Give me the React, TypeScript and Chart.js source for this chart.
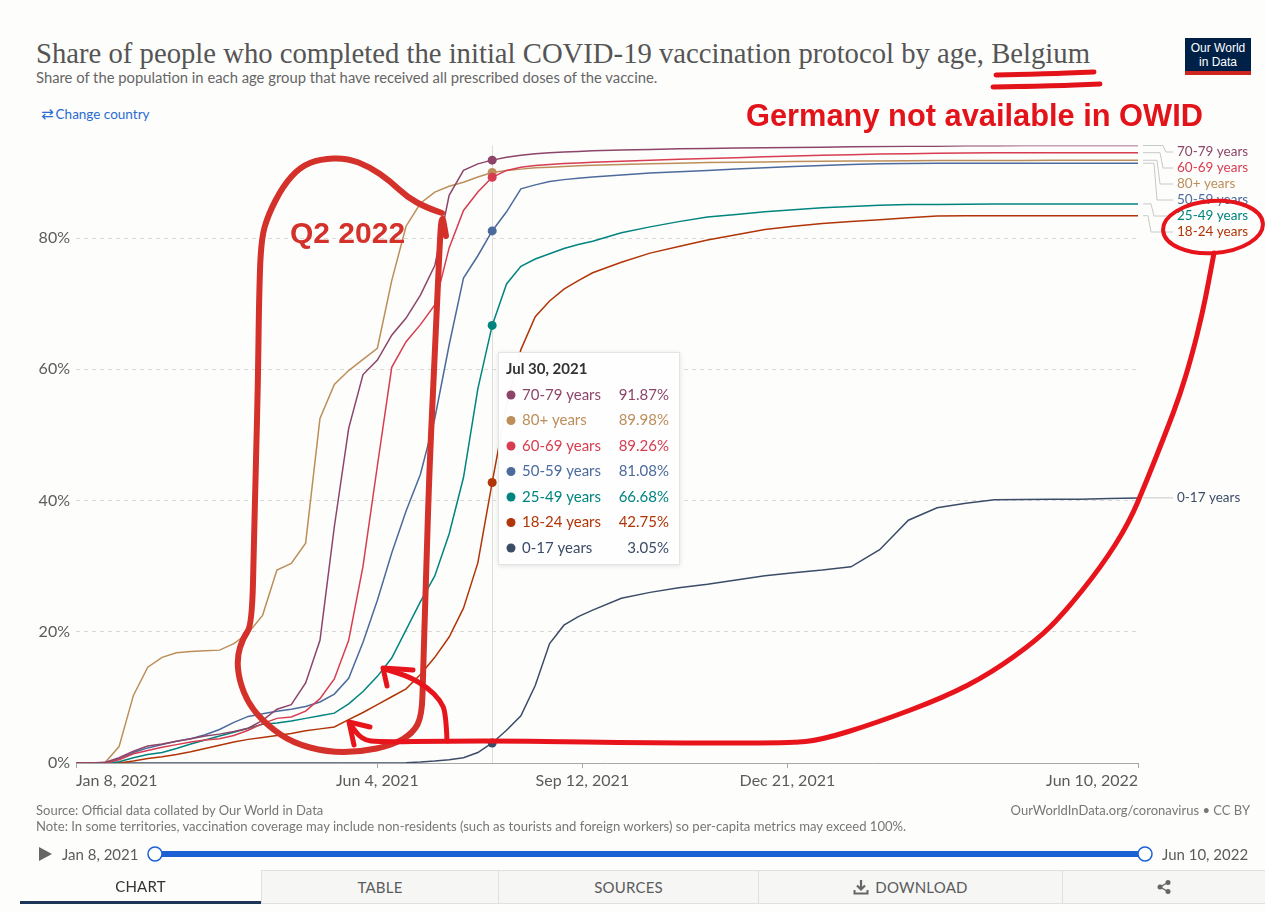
import React, { useEffect, useRef } from "react";
import { Chart, registerables } from "chart.js";

Chart.register(...registerables);

// ---------------- data ----------------
const startDate = "2021-01-08";
// days since startDate (weekly, then fortnightly)
const sampleDays = [0, 7, 14, 21, 28, 35, 42, 49, 56, 63, 70, 77, 84, 91, 98, 105, 112, 119, 126, 133, 140, 147, 154, 161, 168, 175, 182, 189, 196, 203, 210, 217, 224, 231, 238, 245, 252, 266, 280, 294, 308, 322, 336, 350, 364, 378, 392, 406, 420, 434, 448, 462, 476, 490, 504, 518];

const seriesNames = ["70-79 years", "60-69 years", "80+ years", "50-59 years", "25-49 years", "18-24 years", "0-17 years"];
const seriesColors = ["#8c4569", "#d73c50", "#bc8e5a", "#4c6a9c", "#00847e", "#b13507", "#3b4c66"];

const share70to79 = [0, 0, 0.1, 0.8, 1.8, 2.6, 2.9, 3.3, 3.7, 4.1, 4.4, 4.8, 5.3, 6.5, 8.2, 8.9, 12.2, 18.7, 36, 51, 59.2, 61.4, 65.2, 67.8, 71.3, 75.8, 86.5, 90.3, 91.3, 91.87, 92.3, 92.6, 92.85, 93.0, 93.1, 93.2, 93.3, 93.4, 93.5, 93.6, 93.65, 93.7, 93.75, 93.8, 93.85, 93.9, 93.95, 94.0, 94.0, 94.05, 94.05, 94.1, 94.1, 94.1, 94.1, 94.1];
const share60to69 = [0, 0, 0, 0.5, 1.4, 1.9, 2.4, 2.8, 3.2, 3.5, 3.7, 4.2, 5.0, 6.0, 6.8, 7.0, 7.9, 9.8, 12.8, 18.7, 30, 45.3, 60.3, 64.2, 66.8, 69.8, 78.5, 84.2, 87.0, 89.26, 90.3, 90.8, 91.05, 91.2, 91.35, 91.45, 91.55, 91.7, 91.85, 92.0, 92.1, 92.25, 92.4, 92.5, 92.6, 92.7, 92.8, 92.85, 92.9, 92.95, 93.0, 93.0, 93.0, 93.0, 93.0, 93.0];
const share80plus = [0, 0, 0, 2.5, 10.3, 14.6, 16.1, 16.8, 17.0, 17.1, 17.2, 18.2, 19.8, 22.5, 29.4, 30.4, 33.5, 52.5, 57.7, 59.8, 61.5, 63.2, 73.5, 81.8, 85.3, 87.0, 87.9, 88.5, 89.3, 89.98, 90.3, 90.5, 90.7, 90.8, 90.9, 91.0, 91.1, 91.2, 91.3, 91.4, 91.5, 91.55, 91.6, 91.65, 91.7, 91.72, 91.75, 91.77, 91.8, 91.8, 91.82, 91.83, 91.84, 91.85, 91.85, 91.85];
const share50to59 = [0, 0, 0, 0.6, 1.6, 2.3, 2.8, 3.3, 3.7, 4.3, 5.1, 6.2, 7.1, 7.5, 7.9, 8.2, 8.6, 9.3, 10.5, 12.9, 18.4, 24.8, 32, 38.4, 44, 52.5, 63.7, 73.9, 77.3, 81.08, 84, 87.5, 88.1, 88.6, 88.9, 89.1, 89.3, 89.6, 89.9, 90.1, 90.3, 90.5, 90.7, 90.9, 91.05, 91.2, 91.3, 91.35, 91.4, 91.4, 91.4, 91.4, 91.4, 91.4, 91.4, 91.4];
const share25to49 = [0, 0, 0, 0.2, 0.8, 1.3, 1.6, 2.2, 2.9, 3.5, 4.1, 4.7, 5.3, 5.9, 6.1, 6.4, 6.8, 7.2, 7.6, 9.0, 10.9, 13.2, 16.0, 20.3, 24.6, 28.5, 34.9, 43.5, 57, 66.68, 73.0, 75.7, 76.8, 77.6, 78.4, 79.0, 79.5, 80.8, 81.7, 82.5, 83.2, 83.6, 84.0, 84.3, 84.6, 84.8, 85.0, 85.1, 85.1, 85.15, 85.2, 85.2, 85.2, 85.2, 85.2, 85.2];
const share18to24 = [0, 0, 0, 0, 0.3, 0.7, 0.95, 1.3, 1.7, 2.2, 2.7, 3.2, 3.6, 3.9, 4.2, 4.5, 4.9, 5.2, 5.5, 6.6, 7.7, 8.9, 10.1, 11.3, 13.5, 16.1, 19.2, 23.6, 30.5, 42.75, 54.5, 63, 68, 70.4, 72.2, 73.5, 74.7, 76.3, 77.7, 78.7, 79.7, 80.5, 81.3, 81.8, 82.2, 82.5, 82.8, 83.1, 83.35, 83.4, 83.4, 83.4, 83.4, 83.4, 83.4, 83.4];
const share0to17 = [0, 0, 0, 0, 0, 0, 0, 0, 0, 0, 0, 0, 0, 0, 0, 0, 0, 0, 0, 0, 0, 0, 0, 0.05, 0.15, 0.3, 0.5, 0.8, 1.6, 3.05, 5.0, 7.2, 11.8, 18.2, 21.0, 22.3, 23.3, 25.1, 26.0, 26.7, 27.25, 27.9, 28.55, 29.0, 29.4, 29.9, 32.5, 37.0, 38.9, 39.6, 40.1, 40.15, 40.2, 40.2, 40.3, 40.4];

const seriesValues = [share70to79, share60to69, share80plus, share50to59, share25to49, share18to24, share0to17];

const xTickDates = ["2021-01-08", "2021-06-04", "2021-09-12", "2021-12-21", "2022-06-10"];
const xTickLabels = ["Jan 8, 2021", "Jun 4, 2021", "Sep 12, 2021", "Dec 21, 2021", "Jun 10, 2022"];
const yTickValues = [0, 20, 40, 60, 80];
const yAxisMax = 94.1;
const hoverDate = "2021-07-30";
const hoverDateLabel = "Jul 30, 2021";

// ---------------- helpers ----------------
const dayOf = (d: string) => Math.round((Date.parse(d) - Date.parse(startDate)) / 86400000);
const xTickDays = xTickDates.map(dayOf);
const hoverDay = dayOf(hoverDate);
const FONT = "Lato, 'Noto Sans', sans-serif";

const hoverLinePlugin = {
  id: "hoverLine",
  beforeDatasetsDraw(chart: any) {
    const { ctx, chartArea, scales } = chart;
    const px = Math.round(scales.x.getPixelForValue(hoverDay)) + 0.5;
    ctx.save();
    ctx.strokeStyle = "#dddddd";
    ctx.lineWidth = 1;
    ctx.beginPath();
    ctx.moveTo(px, chartArea.top);
    ctx.lineTo(px, chartArea.bottom);
    ctx.stroke();
    ctx.restore();
  },
};

const endLabelsPlugin = {
  id: "endLabels",
  afterDatasetsDraw(chart: any) {
    const { ctx, chartArea, scales } = chart;
    const last = sampleDays.length - 1;
    const items = seriesNames.map((name, i) => ({
      name,
      color: seriesColors[i],
      endY: scales.y.getPixelForValue(seriesValues[i][last]),
      labelY: 0,
      k: 0,
    }));
    items.sort((a, b) => a.endY - b.endY);
    let prev = -Infinity;
    let k = 0;
    items.forEach((it) => {
      it.labelY = Math.max(it.endY, prev + 16, chartArea.top + 6.5);
      it.k = it.labelY - it.endY > 0.5 || k > 0 ? k++ : k;
      prev = it.labelY;
    });
    const xEnd = chartArea.right;
    const labelX = xEnd + 39;
    ctx.save();
    ctx.font = `13.5px ${FONT}`;
    ctx.textBaseline = "middle";
    items.forEach((it) => {
      ctx.strokeStyle = "#c8c8c8";
      ctx.lineWidth = 1;
      ctx.beginPath();
      if (Math.abs(it.labelY - it.endY) < 0.5) {
        ctx.moveTo(xEnd + 5, it.endY);
        ctx.lineTo(labelX - 4, it.labelY);
      } else {
        const xv = xEnd + 25 - 3 * it.k;
        ctx.moveTo(xEnd + 5, it.endY);
        ctx.lineTo(xv, it.endY);
        ctx.lineTo(xv + 3, it.labelY);
        ctx.lineTo(labelX - 4, it.labelY);
      }
      ctx.stroke();
      ctx.fillStyle = it.color;
      ctx.fillText(it.name, labelX, it.labelY);
    });
    ctx.restore();
  },
};

const tooltipPlugin = {
  id: "fixedTooltip",
  afterDraw(chart: any) {
    const { ctx, scales } = chart;
    const idx = sampleDays.indexOf(hoverDay);
    const hx = scales.x.getPixelForValue(hoverDay);
    const rows = seriesNames
      .map((name, i) => ({ name, color: seriesColors[i], v: seriesValues[i][idx] }))
      .sort((a, b) => b.v - a.v);
    const bx = Math.round(hx) + 6;
    const by = 352;
    const bw = 182;
    const bh = 213;
    ctx.save();
    ctx.shadowColor = "rgba(0,0,0,0.12)";
    ctx.shadowBlur = 5;
    ctx.shadowOffsetY = 1;
    ctx.fillStyle = "rgba(255,255,255,0.97)";
    ctx.fillRect(bx, by, bw, bh);
    ctx.shadowColor = "transparent";
    ctx.strokeStyle = "#e4e4e4";
    ctx.lineWidth = 1;
    ctx.strokeRect(bx + 0.5, by + 0.5, bw - 1, bh - 1);
    ctx.textBaseline = "middle";
    ctx.font = `bold 15px ${FONT}`;
    ctx.fillStyle = "#333333";
    ctx.textAlign = "left";
    ctx.fillText(hoverDateLabel, bx + 8, by + 17);
    ctx.font = `15px ${FONT}`;
    rows.forEach((r, i) => {
      const y = by + 43 + i * 25.5;
      ctx.fillStyle = r.color;
      ctx.beginPath();
      ctx.arc(bx + 13, y, 4.5, 0, Math.PI * 2);
      ctx.fill();
      ctx.textAlign = "left";
      ctx.fillText(r.name, bx + 24, y);
      ctx.textAlign = "right";
      ctx.fillText(r.v.toFixed(2) + "%", bx + bw - 11, y);
    });
    ctx.restore();
  },
};

// ---------------- annotations (hand-drawn overlay, page pixels) ----------------
const loopStroke = [[442, 213], [427, 208], [407, 197], [390, 181], [370, 167], [347, 158], [320, 159], [300, 167], [283, 186], [268, 215], [261, 240], [259, 300], [258, 380], [256, 460], [254, 540], [252, 625], [243, 638], [237, 657], [239, 680], [249, 705], [268, 726], [293, 743], [327, 752], [360, 752], [393, 745], [413, 733], [422, 716], [423, 673], [426, 580], [429, 480], [433, 390], [437, 307], [440, 237], [442, 213], [446, 236]];
const bigArrowStroke = [[1214, 253], [1209, 280], [1202, 315], [1192, 355], [1180, 395], [1166, 432], [1147, 480], [1129, 523], [1101, 567], [1064, 613], [1037, 640], [991, 673], [945, 697], [876, 723], [821, 740], [790, 743], [650, 743], [520, 741], [447, 741], [380, 742], [362, 740], [350, 724]];
const arrowHead1 = [[370, 727], [349, 722], [354, 745]];
const arrow2Stroke = [[447, 741], [446, 713], [440, 700], [428, 688], [410, 677], [385, 669]];
const arrowHead2 = [[413, 670], [383, 668], [387, 686]];
const underline1 = [[996, 75], [1040, 74], [1094, 72]];
const underline2 = [[993, 87], [1050, 86], [1100, 84]];

function smoothPath(pts: number[][]) {
  if (pts.length < 3) return "M" + pts.map((p) => p.join(" ")).join(" L");
  let d = `M${pts[0][0]} ${pts[0][1]}`;
  for (let i = 1; i < pts.length - 1; i++) {
    const mx = (pts[i][0] + pts[i + 1][0]) / 2;
    const my = (pts[i][1] + pts[i + 1][1]) / 2;
    d += ` Q${pts[i][0]} ${pts[i][1]} ${mx} ${my}`;
  }
  const l = pts[pts.length - 1];
  d += ` L${l[0]} ${l[1]}`;
  return d;
}
const polyPath = (pts: number[][]) => "M" + pts.map((p) => p.join(" ")).join(" L");

export default function App() {
  const canvasRef = useRef<HTMLCanvasElement | null>(null);

  useEffect(() => {
    const canvas = canvasRef.current;
    if (!canvas) return;
    const chart = new Chart(canvas, {
      type: "line",
      data: {
        datasets: seriesNames.map((name, i) => ({
          label: name,
          data: sampleDays.map((d, j) => ({ x: d, y: seriesValues[i][j] })),
          borderColor: seriesColors[i],
          backgroundColor: seriesColors[i],
          borderWidth: 1.5,
          tension: 0,
          fill: false,
          pointRadius: (c: any) => (c.raw && c.raw.x === hoverDay ? 4.5 : 0),
          pointBorderWidth: 0,
          pointHoverRadius: 0,
        })),
      },
      options: {
        responsive: false,
        animation: false,
        devicePixelRatio: 1,
        events: [],
        layout: { padding: { left: 0, right: 127, top: 145.5, bottom: 119 } },
        plugins: { legend: { display: false }, tooltip: { enabled: false }, title: { display: false } },
        scales: {
          x: {
            type: "linear",
            min: xTickDays[0],
            max: xTickDays[xTickDays.length - 1],
            afterBuildTicks: (s: any) => {
              s.ticks = xTickDays.map((v) => ({ value: v }));
            },
            afterFit: (s: any) => {
              s.height = 30;
            },
            ticks: {
              autoSkip: false,
              maxRotation: 0,
              align: "inner",
              padding: 3,
              color: "#5b5b5b",
              font: { family: FONT, size: 16 },
              callback: (_v: any, i: number) => xTickLabels[i],
            },
            grid: { display: true, drawOnChartArea: false, drawTicks: true, tickLength: 5, color: "#a8a8a8" },
            border: { display: true, color: "#a8a8a8", width: 1 },
          },
          y: {
            type: "linear",
            min: 0,
            max: yAxisMax,
            afterBuildTicks: (s: any) => {
              s.ticks = yTickValues.map((v) => ({ value: v }));
            },
            afterFit: (s: any) => {
              s.width = 76;
            },
            ticks: {
              padding: 6,
              color: "#5b5b5b",
              font: { family: FONT, size: 16 },
              callback: (v: any) => v + "%",
            },
            grid: { color: "#d9d9d9", drawTicks: false, lineWidth: 1 },
            border: { display: false, dash: [4, 4] },
          },
        },
      },
      plugins: [hoverLinePlugin, endLabelsPlugin, tooltipPlugin],
    } as any);
    return () => chart.destroy();
  }, []);

  const abs = (o: any) => ({ position: "absolute", whiteSpace: "nowrap", ...o });
  const tabText = { fontFamily: FONT, fontSize: 15, color: "#5b5b5b", letterSpacing: 0.2 };

  return (
    <div style={{ position: "absolute", left: 0, top: 0, width: 1265, height: 912, background: "#fdfdfc", overflow: "hidden", fontFamily: FONT }}>
      {/* header */}
      <div style={abs({ left: 36, top: 39, fontFamily: "'Liberation Serif', 'DejaVu Serif', serif", fontSize: 28.7, lineHeight: "28.7px", color: "#555555" })}>
        Share of people who completed the initial COVID-19 vaccination protocol by age, Belgium
      </div>
      <div style={abs({ left: 36, top: 69.5, fontSize: 14.8, lineHeight: "14.8px", color: "#666666" })}>
        Share of the population in each age group that have received all prescribed doses of the vaccine.
      </div>
      <div style={abs({ left: 41, top: 107, fontSize: 13.5, lineHeight: "14px", color: "#2a6bcf" })}>
        <span style={{ fontFamily: "'DejaVu Sans', sans-serif", fontSize: 15, marginRight: 2 }}>⇄</span>Change country
      </div>
      <div style={abs({ left: 1185, top: 38, width: 66, height: 37, background: "#002147", boxSizing: "border-box", borderBottom: "4px solid #ce261e", color: "#fff", fontFamily: "'Liberation Sans', Arial, sans-serif", fontSize: 12, lineHeight: "14px", textAlign: "center", paddingTop: 3 })}>
        Our World<br />in Data
      </div>

      <canvas ref={canvasRef} width={1265} height={912} style={{ position: "absolute", left: 0, top: 0, width: 1265, height: 912 }} />

      {/* footer */}
      <div style={abs({ left: 36, top: 803, fontSize: 13, lineHeight: "14px", color: "#777777" })}>
        Source: Official data collated by Our World in Data
      </div>
      <div style={abs({ left: 36, top: 819, fontSize: 13.1, lineHeight: "14px", color: "#777777" })}>
        Note: In some territories, vaccination coverage may include non-residents (such as tourists and foreign workers) so per-capita metrics may exceed 100%.
      </div>
      <div style={abs({ right: 15, top: 803, fontSize: 13, lineHeight: "14px", color: "#777777" })}>
        OurWorldInData.org/coronavirus • CC BY
      </div>

      {/* timeline */}
      <svg style={{ position: "absolute", left: 0, top: 838, width: 1265, height: 32 }} width={1265} height={32}>
        <polygon points="39,9 39,23 52,16" fill="#666" />
        <rect x={155} y={13} width={990} height={6} rx={3} fill="#1a62d4" />
        <circle cx={155} cy={16} r={7} fill="#fff" stroke="#1a62d4" strokeWidth={1.5} />
        <circle cx={1145} cy={16} r={7} fill="#fff" stroke="#1a62d4" strokeWidth={1.5} />
      </svg>
      <div style={abs({ left: 62, top: 846, fontSize: 15, lineHeight: "16px", color: "#5b5b5b" })}>Jan 8, 2021</div>
      <div style={abs({ left: 1162, top: 846, fontSize: 15, lineHeight: "16px", color: "#5b5b5b" })}>Jun 10, 2022</div>

      {/* tabs */}
      <div style={abs({ left: 20, top: 870, width: 241, height: 34, boxSizing: "border-box", borderBottom: "3px solid #1d3557", display: "flex", alignItems: "center", justifyContent: "center" })}>
        <span style={{ ...tabText, color: "#333" }}>CHART</span>
      </div>
      {[
        { l: 261, w: 237, t: "TABLE" },
        { l: 498, w: 260, t: "SOURCES" },
        { l: 758, w: 304, t: "DOWNLOAD" },
        { l: 1062, w: 203, t: "" },
      ].map((tb, i) => (
        <div key={i} style={abs({ left: tb.l, top: 870, width: tb.w, height: 34, boxSizing: "border-box", background: "#f6f6f5", borderTop: "1px solid #e0e0e0", borderBottom: "1px solid #e0e0e0", borderLeft: "1px solid #e0e0e0", display: "flex", alignItems: "center", justifyContent: "center" })}>
          {tb.t === "DOWNLOAD" && (
            <svg width={16} height={16} style={{ marginRight: 6 }}>
              <path d="M8 1 V10 M4 6.5 L8 10.5 L12 6.5" stroke="#666" strokeWidth={2.2} fill="none" />
              <path d="M1.5 11 V14.5 H14.5 V11" stroke="#666" strokeWidth={2} fill="none" />
            </svg>
          )}
          {tb.t ? (
            <span style={tabText}>{tb.t}</span>
          ) : (
            <svg width={16} height={16}>
              <circle cx={12} cy={3.5} r={2.5} fill="#666" />
              <circle cx={4} cy={8} r={2.5} fill="#666" />
              <circle cx={12} cy={12.5} r={2.5} fill="#666" />
              <path d="M12 3.5 L4 8 L12 12.5" stroke="#666" strokeWidth={1.4} fill="none" />
            </svg>
          )}
        </div>
      ))}

      {/* red hand-drawn annotations */}
      <svg style={{ position: "absolute", left: 0, top: 0 }} width={1265} height={912}>
        <g fill="none" strokeLinecap="round" strokeLinejoin="round">
          <path d={smoothPath(underline1)} stroke="#e3131a" strokeWidth={5} />
          <path d={smoothPath(underline2)} stroke="#e3131a" strokeWidth={5} />
          <path d={smoothPath(loopStroke)} stroke="#d3312a" strokeWidth={6} />
          <ellipse cx={1213} cy={227} rx={50} ry={26} stroke="#e8141c" strokeWidth={4} transform="rotate(-4 1213 227)" />
          <path d={smoothPath(bigArrowStroke)} stroke="#e8141c" strokeWidth={5} />
          <path d={polyPath(arrowHead1)} stroke="#e8141c" strokeWidth={5} />
          <path d={smoothPath(arrow2Stroke)} stroke="#e8141c" strokeWidth={5} />
          <path d={polyPath(arrowHead2)} stroke="#e8141c" strokeWidth={5} />
        </g>
        <text x={746} y={126} fill="#e3131a" fontFamily="'Liberation Sans', Arial, sans-serif" fontWeight="bold" fontSize={30.8}>
          Germany not available in OWID
        </text>
        <text x={290} y={243} fill="#d3312a" fontFamily="'Liberation Sans', Arial, sans-serif" fontWeight="bold" fontSize={30}>
          Q2 2022
        </text>
      </svg>
    </div>
  );
}
